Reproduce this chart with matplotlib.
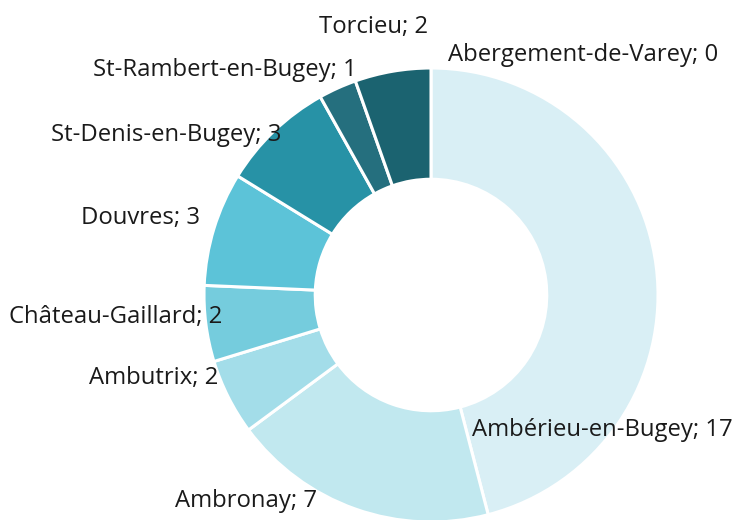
import matplotlib.pyplot as plt

communes = ["Abergement-de-Varey", "Ambérieu-en-Bugey", "Ambronay", "Ambutrix",
            "Château-Gaillard", "Douvres", "St-Denis-en-Bugey",
            "St-Rambert-en-Bugey", "Torcieu"]
valeurs = [0, 17, 7, 2, 2, 3, 3, 1, 2]
couleurs = ["#d9eff5", "#d9eff5", "#c1e8ef", "#a3dde9", "#75ccdd",
            "#5cc3d8", "#2792a6", "#256f7e", "#1b6370"]

# label anchors in pixels (x, y from top, ha)
W, H = 738, 520
pos_labels = [(448, 55, "left"), (472, 430, "left"), (317, 501, "right"),
              (218, 378, "right"), (222, 317, "right"), (200, 218, "right"),
              (281, 135, "right"), (357, 70, "right"), (428, 27, "right")]

fig = plt.figure(figsize=(W / 100, H / 100), dpi=100)
cx, cy, r = 431, 295, 227
ax = fig.add_axes([(cx - r) / W, (H - cy - r) / H, 2 * r / W, 2 * r / H])
ax.pie(valeurs, colors=couleurs, startangle=90, counterclock=False,
       radius=1, wedgeprops=dict(width=0.49, edgecolor="white", linewidth=2.2))
ax.set_xlim(-1, 1)
ax.set_ylim(-1, 1)
ax.set_aspect("equal")
ax.axis("off")

for nom, v, (x, y, ha) in zip(communes, valeurs, pos_labels):
    fig.text(x / W, 1 - y / H, f"{nom}; {v}", ha=ha, va="center",
             fontsize=17.2, family="Open Sans", color="#1a1a1a")

fig.savefig("out.png", dpi=100)
